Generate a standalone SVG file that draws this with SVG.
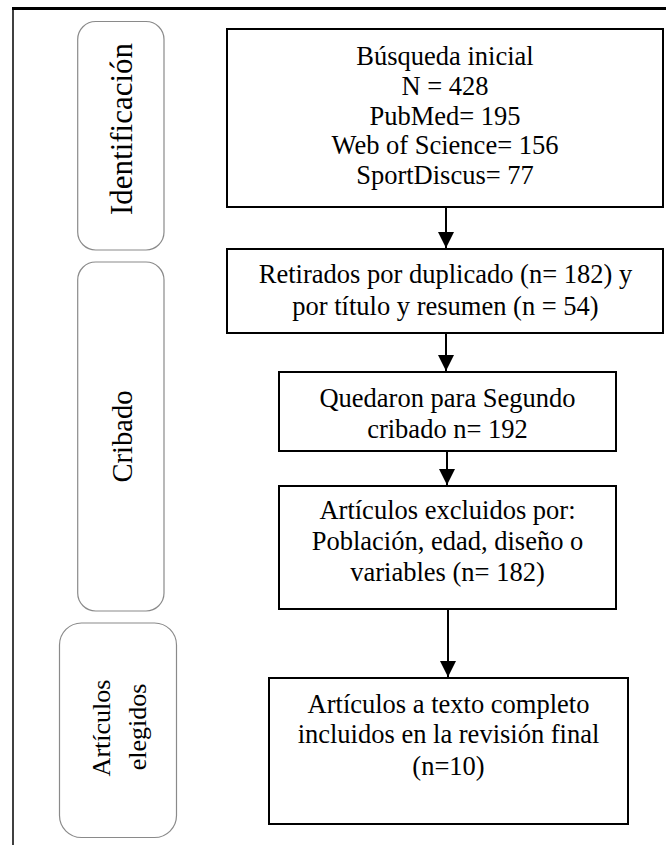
<svg xmlns="http://www.w3.org/2000/svg" width="666" height="845" viewBox="0 0 666 845">
<style>
.box{fill:#fff;stroke:#000;stroke-width:2}
.stage{fill:#fff;stroke:#8a8a8a;stroke-width:1.2}
.t{font-family:"Liberation Serif","Times New Roman",serif;font-size:26.5px;fill:#000;text-anchor:middle}
.lbl{font-family:"Liberation Serif","Times New Roman",serif;fill:#000;text-anchor:middle}
.conn{stroke:#000;stroke-width:2;fill:none}
</style>
<defs>
<marker id="ah" markerUnits="userSpaceOnUse" viewBox="0 0 16 16" markerWidth="16" markerHeight="16" refX="16" refY="8" orient="auto">
<path d="M0,0 L16,8 L0,16 z" fill="#000"/>
</marker>
</defs>
<rect width="666" height="845" fill="#fff"/>
<g id="frame">
<line x1="12" y1="8.5" x2="666" y2="8.5" stroke="#000" stroke-width="3"/>
<line x1="13" y1="8" x2="13" y2="845" stroke="#000" stroke-width="1.5"/>
</g>
<g id="stage-identificacion">
<rect class="stage" x="77.7" y="21.5" width="86.3" height="228.5" rx="18" ry="18"/>
<text class="lbl" font-size="31" transform="translate(131.7,129) rotate(-90)">Identificación</text>
</g>
<g id="stage-cribado">
<rect class="stage" x="77.7" y="262" width="86.3" height="349" rx="18" ry="18"/>
<text class="lbl" font-size="28.5" transform="translate(132,436.5) rotate(-90)">Cribado</text>
</g>
<g id="stage-elegidos">
<rect class="stage" x="59.5" y="623" width="117" height="214.5" rx="22" ry="22"/>
<text class="lbl" font-size="26" transform="translate(110,728) rotate(-90)">Artículos</text>
<text class="lbl" font-size="26" transform="translate(145.5,727) rotate(-90)">elegidos</text>
</g>
<g id="connectors">
<line class="conn" x1="446" y1="207" x2="446" y2="248" marker-end="url(#ah)"/>
<line class="conn" x1="446" y1="333" x2="446" y2="371" marker-end="url(#ah)"/>
<line class="conn" x1="447" y1="451" x2="447" y2="485" marker-end="url(#ah)"/>
<line class="conn" x1="448" y1="609" x2="448" y2="677" marker-end="url(#ah)"/>
</g>
<g id="node-busqueda">
<rect class="box" x="227" y="29" width="436" height="178"/>
<text class="t" x="445" y="65">Búsqueda inicial</text>
<text class="t" x="445" y="95">N = 428</text>
<text class="t" x="445" y="125">PubMed= 195</text>
<text class="t" x="445" y="154">Web of Science= 156</text>
<text class="t" x="445" y="184">SportDiscus= 77</text>
</g>
<g id="node-retirados">
<rect class="box" x="227" y="249" width="436" height="84"/>
<text class="t" x="445.5" y="283">Retirados por duplicado (n= 182) y</text>
<text class="t" x="445.5" y="315">por título y resumen (n = 54)</text>
</g>
<g id="node-quedaron">
<rect class="box" x="279" y="372" width="337" height="79"/>
<text class="t" x="447.5" y="407">Quedaron para Segundo</text>
<text class="t" x="447.5" y="438">cribado n= 192</text>
</g>
<g id="node-excluidos">
<rect class="box" x="279" y="486" width="337" height="123"/>
<text class="t" x="447.5" y="519">Artículos excluidos por:</text>
<text class="t" x="447.5" y="550">Población, edad, diseño o</text>
<text class="t" x="447.5" y="581">variables (n= 182)</text>
</g>
<g id="node-incluidos">
<rect class="box" x="269" y="678" width="359" height="146"/>
<text class="t" x="448.5" y="713">Artículos a texto completo</text>
<text class="t" x="448.5" y="743">incluidos en la revisión final</text>
<text class="t" x="448.5" y="775">(n=10)</text>
</g>
</svg>
